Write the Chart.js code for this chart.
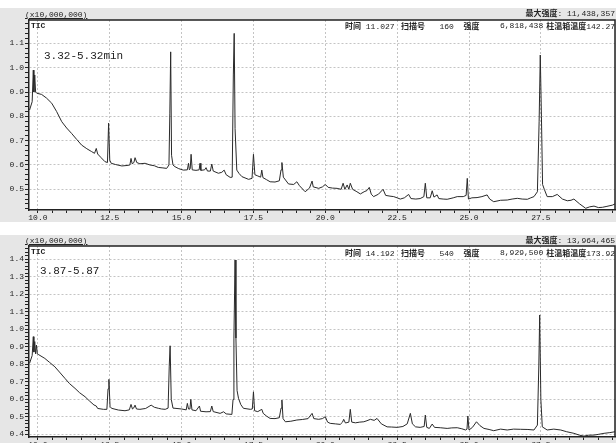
<!DOCTYPE html>
<html>
<head>
<meta charset="utf-8">
<script src="https://cdn.jsdelivr.net/npm/chart.js@4"></script>
<style>
  body { margin: 0; width: 616px; height: 443px; background: #fff; overflow: hidden; position: relative;
         font-family: "Liberation Mono", "Noto Sans CJK SC", monospace; }
  .panel { position: absolute; left: 0; width: 616px; background: #e6e6e6; }
  .panel canvas { position: absolute; left: 0; top: 0; }
  .txt { position: absolute; font-size: 8px; line-height: 9px; color: #222; white-space: pre; }
  .cjk { font-family: "Noto Sans CJK SC", sans-serif; font-weight: bold; }
  .note { position: absolute; font-size: 11px; line-height: 12px; color: #222; white-space: pre; }
</style>
</head>
<body>
<div class="panel" id="p1" style="top:8px;height:214px;"><canvas id="chartTop" width="616" height="214"></canvas></div>
<div class="panel" id="p2" style="top:235px;height:208px;"><canvas id="chartBottom" width="616" height="208"></canvas></div>

<div class="txt" style="left:25px;top:10px;text-decoration:underline;">(x10,000,000)</div>
<div class="txt" style="left:31px;top:21px;font-weight:bold;">TIC</div>
<div class="txt" style="right:1px;top:8px;"><span class="cjk">最大强度</span>: 11,438,357</div>
<div class="txt" style="left:345px;top:21px;"><span class="cjk">时间</span> 11.027</div>
<div class="txt" style="left:401px;top:21px;"><span class="cjk">扫描号</span>   160  <span class="cjk">强度</span></div>
<div class="txt" style="left:500px;top:21px;">6,818,438</div>
<div class="txt" style="right:1px;top:21px;"><span class="cjk">柱温箱温度</span>142.27</div>
<div class="note" style="left:44px;top:50px;">3.32-5.32min</div>

<div class="txt" style="left:25px;top:236px;text-decoration:underline;">(x10,000,000)</div>
<div class="txt" style="left:31px;top:247px;font-weight:bold;">TIC</div>
<div class="txt" style="right:1px;top:235px;"><span class="cjk">最大强度</span>: 13,964,465</div>
<div class="txt" style="left:345px;top:248px;"><span class="cjk">时间</span> 14.192</div>
<div class="txt" style="left:401px;top:248px;"><span class="cjk">扫描号</span>   540  <span class="cjk">强度</span></div>
<div class="txt" style="left:500px;top:248px;">8,929,500</div>
<div class="txt" style="right:1px;top:248px;"><span class="cjk">柱温箱温度</span>173.92</div>
<div class="note" style="left:40px;top:265px;">3.87-5.87</div>

<script>
// retention time (min) and TIC intensity (x10,000,000)
const topTime = [9.71, 9.80, 9.84, 9.86, 9.89, 9.92, 9.96, 10.13, 10.30, 10.48, 10.65, 10.83, 11.00, 11.17, 11.35, 11.52, 11.70, 11.87, 11.97, 12.03, 12.08, 12.20, 12.33, 12.42, 12.46, 12.50, 12.55, 12.70, 12.92, 13.10, 13.20, 13.24, 13.28, 13.34, 13.38, 13.44, 13.55, 13.73, 13.90, 14.05, 14.19, 14.35, 14.48, 14.56, 14.59, 14.62, 14.65, 14.70, 14.77, 14.90, 15.06, 15.20, 15.24, 15.27, 15.30, 15.33, 15.37, 15.50, 15.61, 15.64, 15.67, 15.80, 15.85, 15.90, 16.00, 16.05, 16.10, 16.28, 16.40, 16.48, 16.55, 16.69, 16.76, 16.80, 16.83, 16.86, 16.92, 17.00, 17.10, 17.33, 17.45, 17.50, 17.55, 17.65, 17.75, 17.79, 17.83, 17.95, 18.08, 18.25, 18.40, 18.46, 18.49, 18.54, 18.72, 18.90, 19.01, 19.10, 19.30, 19.45, 19.54, 19.58, 19.77, 19.90, 20.00, 20.10, 20.25, 20.41, 20.55, 20.62, 20.68, 20.76, 20.82, 20.87, 20.95, 21.10, 21.22, 21.35, 21.45, 21.53, 21.60, 21.68, 21.85, 22.01, 22.10, 22.25, 22.38, 22.50, 22.61, 22.75, 22.90, 22.98, 23.15, 23.30, 23.43, 23.48, 23.53, 23.65, 23.72, 23.78, 23.89, 23.95, 24.10, 24.24, 24.45, 24.59, 24.80, 24.90, 24.94, 24.98, 25.10, 25.28, 25.45, 25.63, 25.72, 25.86, 26.10, 26.33, 26.50, 26.68, 26.85, 27.03, 27.15, 27.26, 27.38, 27.44, 27.48, 27.52, 27.56, 27.62, 27.72, 27.90, 28.07, 28.25, 28.42, 28.55, 28.65, 28.85, 29.06, 29.20, 29.35, 29.50, 29.64, 29.80, 29.99, 30.08];
const topTic = [0.826, 0.86, 0.99, 0.90, 0.97, 0.90, 0.895, 0.89, 0.875, 0.854, 0.82, 0.778, 0.752, 0.73, 0.705, 0.682, 0.667, 0.655, 0.648, 0.668, 0.645, 0.63, 0.614, 0.61, 0.772, 0.62, 0.607, 0.602, 0.596, 0.598, 0.6, 0.627, 0.605, 0.61, 0.63, 0.61, 0.605, 0.607, 0.6, 0.597, 0.59, 0.588, 0.586, 0.6, 0.81, 1.065, 0.64, 0.6, 0.593, 0.585, 0.579, 0.58, 0.607, 0.58, 0.585, 0.644, 0.58, 0.578, 0.58, 0.607, 0.578, 0.58, 0.589, 0.575, 0.575, 0.604, 0.575, 0.566, 0.57, 0.579, 0.56, 0.549, 0.55, 0.97, 1.141, 0.75, 0.579, 0.565, 0.552, 0.541, 0.545, 0.644, 0.56, 0.555, 0.55, 0.579, 0.548, 0.54, 0.531, 0.53, 0.535, 0.58, 0.61, 0.55, 0.522, 0.52, 0.531, 0.515, 0.49, 0.505, 0.534, 0.51, 0.504, 0.51, 0.52, 0.508, 0.505, 0.504, 0.5, 0.525, 0.5, 0.518, 0.5, 0.525, 0.5, 0.49, 0.481, 0.49, 0.495, 0.508, 0.48, 0.47, 0.48, 0.5, 0.475, 0.472, 0.47, 0.465, 0.46, 0.465, 0.479, 0.462, 0.46, 0.462, 0.47, 0.525, 0.465, 0.465, 0.494, 0.468, 0.477, 0.462, 0.46, 0.459, 0.465, 0.47, 0.47, 0.475, 0.545, 0.46, 0.465, 0.466, 0.47, 0.477, 0.46, 0.449, 0.455, 0.456, 0.46, 0.463, 0.46, 0.459, 0.465, 0.47, 0.49, 0.78, 1.052, 0.8, 0.52, 0.5, 0.47, 0.47, 0.479, 0.46, 0.453, 0.455, 0.46, 0.44, 0.422, 0.428, 0.431, 0.425, 0.426, 0.43, 0.435, 0.44];

const botTime = [9.71, 9.80, 9.84, 9.86, 9.89, 9.92, 9.95, 9.98, 10.01, 10.24, 10.40, 10.59, 10.75, 10.94, 11.10, 11.29, 11.45, 11.64, 11.80, 11.95, 12.03, 12.08, 12.28, 12.40, 12.44, 12.47, 12.51, 12.56, 12.80, 13.03, 13.18, 13.24, 13.29, 13.33, 13.38, 13.43, 13.55, 13.75, 13.94, 14.05, 14.19, 14.30, 14.43, 14.53, 14.57, 14.60, 14.64, 14.70, 14.77, 15.00, 15.16, 15.20, 15.24, 15.29, 15.32, 15.36, 15.50, 15.62, 15.66, 15.85, 16.00, 16.05, 16.10, 16.34, 16.46, 16.55, 16.75, 16.79, 16.82, 16.86, 16.89, 16.93, 16.98, 17.06, 17.15, 17.39, 17.46, 17.50, 17.54, 17.65, 17.79, 17.84, 17.95, 18.08, 18.25, 18.40, 18.46, 18.49, 18.53, 18.61, 18.80, 19.01, 19.20, 19.40, 19.54, 19.60, 19.77, 19.90, 20.00, 20.08, 20.17, 20.35, 20.52, 20.60, 20.64, 20.70, 20.82, 20.87, 20.92, 21.05, 21.20, 21.34, 21.45, 21.57, 21.70, 21.80, 21.95, 22.15, 22.30, 22.50, 22.70, 22.85, 22.96, 23.03, 23.14, 23.30, 23.44, 23.48, 23.53, 23.62, 23.72, 23.80, 24.00, 24.24, 24.40, 24.59, 24.75, 24.88, 24.93, 24.96, 25.00, 25.12, 25.26, 25.38, 25.52, 25.70, 25.86, 26.10, 26.33, 26.55, 26.79, 27.05, 27.26, 27.38, 27.43, 27.46, 27.50, 27.55, 27.72, 27.95, 28.19, 28.40, 28.65, 28.85, 29.00, 29.15, 29.35, 29.50, 29.70, 29.90, 30.08];
const botTic = [0.806, 0.85, 0.958, 0.87, 0.93, 0.86, 0.91, 0.86, 0.857, 0.834, 0.812, 0.786, 0.756, 0.72, 0.69, 0.663, 0.638, 0.615, 0.59, 0.568, 0.562, 0.548, 0.543, 0.543, 0.66, 0.714, 0.56, 0.549, 0.539, 0.535, 0.54, 0.571, 0.545, 0.55, 0.567, 0.545, 0.543, 0.548, 0.567, 0.555, 0.549, 0.545, 0.543, 0.55, 0.79, 0.906, 0.6, 0.55, 0.549, 0.545, 0.54, 0.577, 0.545, 0.545, 0.6, 0.54, 0.535, 0.562, 0.532, 0.529, 0.53, 0.562, 0.53, 0.52, 0.529, 0.517, 0.514, 0.6, 0.95, 1.396, 0.95, 0.65, 0.606, 0.57, 0.549, 0.543, 0.545, 0.643, 0.535, 0.53, 0.543, 0.52, 0.505, 0.491, 0.49, 0.495, 0.55, 0.596, 0.49, 0.472, 0.475, 0.482, 0.485, 0.49, 0.52, 0.49, 0.486, 0.49, 0.501, 0.47, 0.463, 0.46, 0.457, 0.47, 0.486, 0.465, 0.47, 0.543, 0.47, 0.466, 0.47, 0.472, 0.478, 0.486, 0.48, 0.491, 0.46, 0.443, 0.442, 0.44, 0.445, 0.46, 0.52, 0.46, 0.443, 0.44, 0.445, 0.51, 0.44, 0.434, 0.459, 0.44, 0.438, 0.434, 0.437, 0.438, 0.432, 0.425, 0.43, 0.505, 0.425, 0.44, 0.472, 0.45, 0.434, 0.428, 0.421, 0.43, 0.425, 0.43, 0.429, 0.428, 0.425, 0.453, 0.796, 1.082, 0.6, 0.443, 0.425, 0.43, 0.425, 0.415, 0.406, 0.395, 0.39, 0.395, 0.396, 0.4, 0.406, 0.41, 0.415];

const xLabels = [10.0, 12.5, 15.0, 17.5, 20.0, 22.5, 25.0, 27.5];
const yMajorStep = 0.1;

function isMultiple(v, step) {
    const r = v / step;
    return Math.abs(r - Math.round(r)) < 1e-6;
}
function isXLabel(v) {
    return xLabels.some(l => Math.abs(l - v) < 1e-6);
}

const plotFrame = {
    id: 'plotFrame',
    beforeDraw(chart) {
        const { ctx, chartArea: a } = chart;
        ctx.save();
        ctx.fillStyle = '#ffffff';
        ctx.fillRect(a.left, a.top, a.width, a.height);
        ctx.restore();
    },
    afterDraw(chart) {
        const { ctx, chartArea: a } = chart;
        ctx.save();
        ctx.strokeStyle = '#222';
        ctx.lineWidth = 1.5;
        ctx.beginPath();
        ctx.moveTo(a.left, a.top);
        ctx.lineTo(a.right, a.top);
        ctx.lineTo(a.right, a.bottom);
        ctx.stroke();
        ctx.restore();
    }
};

function makeChart(id, times, tic, yMin, yMax, padTop, xAxisHeight) {
    const pts = times.map((t, i) => ({ x: t, y: tic[i] }));
    return new Chart(document.getElementById(id), {
        type: 'line',
        data: {
            datasets: [{
                data: pts,
                borderColor: '#2a2a2a',
                borderWidth: 1,
                pointRadius: 0,
                tension: 0
            }]
        },
        options: {
            responsive: false,
            animation: false,
            layout: { padding: { top: padTop, right: 1, left: 0, bottom: 0 } },
            plugins: { legend: { display: false }, tooltip: { enabled: false } },
            scales: {
                x: {
                    type: 'linear',
                    min: 9.69, max: 30.08,
                    afterFit: s => { s.height = xAxisHeight; },
                    border: { display: true, color: '#222', width: 1.5, dash: [2, 2] },
                    grid: {
                        color: c => c.tick && isXLabel(c.tick.value) ? '#c4c4c4' : 'rgba(0,0,0,0)',
                        tickColor: '#222',
                        tickLength: 3
                    },
                    ticks: {
                        stepSize: 0.5,
                        includeBounds: false,
                        autoSkip: false,
                        maxRotation: 0,
                        padding: 0,
                        color: '#222',
                        font: { family: 'Liberation Mono', size: 8 },
                        callback: v => isXLabel(v) ? v.toFixed(1) : ''
                    }
                },
                y: {
                    min: yMin, max: yMax,
                    afterFit: s => { s.width = 29; },
                    border: { display: true, color: '#222', width: 1.5, dash: [2, 2] },
                    grid: {
                        color: c => c.tick && isMultiple(c.tick.value, yMajorStep) ? '#c4c4c4' : 'rgba(0,0,0,0)',
                        tickColor: '#222',
                        tickLength: 4
                    },
                    ticks: {
                        stepSize: 0.02,
                        includeBounds: false,
                        autoSkip: false,
                        padding: 1,
                        color: '#222',
                        font: { family: 'Liberation Mono', size: 8 },
                        callback: v => isMultiple(v, yMajorStep) ? v.toFixed(1) : ''
                    }
                }
            }
        },
        plugins: [plotFrame]
    });
}

makeChart('chartTop', topTime, topTic, 0.415, 1.196, 12, 12);
makeChart('chartBottom', botTime, botTic, 0.385, 1.476, 11, 6);
</script>
</body>
</html>
